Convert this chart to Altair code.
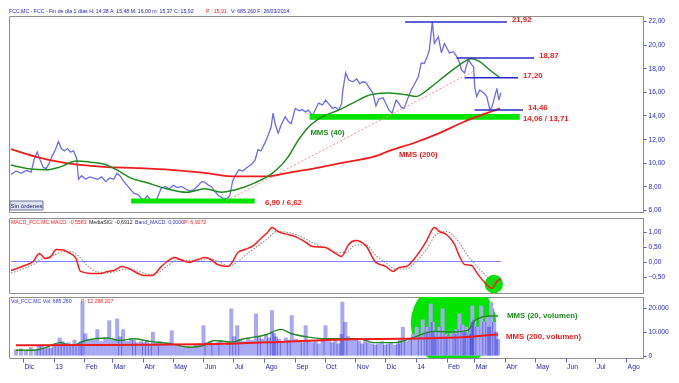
import altair as alt
import pandas as pd

FONT = "Liberation Sans"

# ---------------- price (close) ----------------
P_DATES = ["2012-11-24","2012-11-29","2012-12-04","2012-12-09","2012-12-14","2012-12-17","2012-12-20","2012-12-23","2012-12-26","2012-12-29",
           "2013-01-01","2013-01-04","2013-01-07","2013-01-10","2013-01-13","2013-01-16","2013-01-19","2013-01-22","2013-01-25","2013-01-28",
           "2013-01-30","2013-02-02","2013-02-06","2013-02-10","2013-02-14","2013-02-18","2013-02-22","2013-02-26","2013-03-02","2013-03-06",
           "2013-03-09","2013-03-12","2013-03-16","2013-03-20","2013-03-23","2013-03-26","2013-03-30","2013-04-02","2013-04-05","2013-04-08",
           "2013-04-11","2013-04-15","2013-04-18","2013-04-22","2013-04-26","2013-04-30","2013-05-04","2013-05-08","2013-05-12","2013-05-16",
           "2013-05-20","2013-05-24","2013-05-28","2013-06-01","2013-06-04","2013-06-08","2013-06-11","2013-06-15","2013-06-18","2013-06-22",
           "2013-06-26","2013-06-29","2013-07-02","2013-07-05","2013-07-08","2013-07-12","2013-07-16","2013-07-20","2013-07-24","2013-07-27",
           "2013-07-30","2013-08-03","2013-08-06","2013-08-09","2013-08-11","2013-08-13","2013-08-16","2013-08-19","2013-08-23","2013-08-26",
           "2013-08-29","2013-09-02","2013-09-06","2013-09-09","2013-09-12","2013-09-15","2013-09-19","2013-09-22","2013-09-25","2013-09-29",
           "2013-10-02","2013-10-06","2013-10-09","2013-10-12","2013-10-15","2013-10-18","2013-10-19","2013-10-22","2013-10-25","2013-10-29",
           "2013-11-02","2013-11-05","2013-11-08","2013-11-11","2013-11-14","2013-11-18","2013-11-21","2013-11-24","2013-11-28","2013-12-01",
           "2013-12-04","2013-12-07","2013-12-11","2013-12-14","2013-12-16","2013-12-19","2013-12-22","2013-12-26","2013-12-29","2014-01-02",
           "2014-01-05","2014-01-08","2014-01-11","2014-01-13","2014-01-16","2014-01-18","2014-01-20","2014-01-22","2014-01-25","2014-01-28",
           "2014-01-31","2014-02-02","2014-02-06","2014-02-09","2014-02-11","2014-02-14","2014-02-17","2014-02-19","2014-02-21","2014-02-24",
           "2014-02-26","2014-02-27","2014-03-01","2014-03-04","2014-03-08","2014-03-11","2014-03-14","2014-03-16","2014-03-18","2014-03-21",
           "2014-03-23","2014-03-25"]
P_CLOSE = [9.0, 9.3, 9.1, 9.35, 9.2, 10.3, 10.9, 10.2, 9.6, 9.5,
           10.0, 10.6, 11.1, 11.8, 11.2, 11.0, 11.2, 10.9, 11.0, 10.4,
           8.6, 8.9, 8.6, 8.8, 8.7, 8.6, 8.8, 8.4, 8.7, 8.6,
           9.1, 8.9, 8.4, 8.0, 7.7, 7.4, 7.3, 7.0, 6.85, 7.2,
           6.9, 6.65, 7.0, 7.85, 8.0, 7.8, 8.1, 7.9, 8.0, 7.8,
           7.6, 7.7, 8.0, 8.4, 8.35, 8.1, 7.95, 7.5, 7.2, 7.0,
           6.95, 7.2, 8.5, 9.0, 9.4, 9.3, 9.6, 9.8, 10.2, 11.1,
           11.0, 11.7, 12.3, 13.0, 14.2, 13.3, 12.5, 13.2, 13.9, 13.5,
           13.3, 14.6, 14.4, 14.5, 14.3, 14.45, 14.0, 14.5, 15.05, 14.9,
           15.3, 14.9, 14.6, 14.7, 14.45, 15.0, 16.0, 17.6, 17.0, 16.85,
           17.1, 16.7, 16.85, 16.8, 16.4, 15.9, 14.8, 15.4, 15.5, 15.0,
           14.45, 14.2, 15.3, 15.0, 14.7, 14.6, 15.3, 16.15, 16.6, 17.25,
           18.45, 18.4, 19.0, 19.55, 21.92, 20.1, 20.4, 20.65, 19.3, 20.1,
           19.6, 19.3, 19.4, 19.0, 18.7, 17.85, 17.6, 18.3, 18.7, 18.3,
           18.1, 16.4, 15.6, 16.15, 15.9, 15.6, 14.5, 14.7, 15.3, 16.3,
           15.3, 15.92]
# volume (thousands of shares), same dates as P_DATES
VOL_K = [2.5, 3.0, 2.2, 3.5, 2.8, 4.0, 4.5, 3.0, 3.5, 3.2,
         4.5, 5.0, 7.5, 6.0, 5.0, 5.5, 4.8, 6.5, 5.0, 6.0,
         22.4, 9.2, 7.0, 6.5, 11.0, 6.0, 7.5, 14.7, 6.5, 15.4,
         8.0, 11.0, 6.0, 7.0, 6.5, 5.5, 6.0, 5.5, 6.5, 5.0,
         9.9, 5.5, 6.0, 5.0, 5.5, 10.5, 4.5, 4.0, 3.5, 4.0,
         3.5, 4.5, 5.0, 12.6, 5.5, 6.0, 5.0, 5.5, 6.5, 4.5,
         5.0, 19.6, 8.0, 12.6, 7.0, 6.0, 7.5, 6.5, 17.5, 8.0,
         7.0, 9.0, 7.5, 18.9, 9.5, 8.0, 7.0, 6.0, 7.5, 6.5,
         16.8, 7.0, 6.0, 5.5, 12.6, 6.0, 5.5, 6.5, 5.0, 7.0,
         12.6, 6.0, 5.5, 6.5, 5.0, 9.0, 22.4, 14.0, 8.0, 7.0,
         6.5, 6.0, 5.0, 6.5, 5.5, 5.0, 4.5, 5.0, 6.0, 4.5,
         5.0, 5.5, 4.5, 5.0, 6.5, 11.9, 6.0, 7.0, 9.0, 12.0,
         8.0, 15.0, 10.0, 12.0, 21.7, 14.0, 10.0, 8.0, 12.0, 19.6,
         9.0, 8.0, 10.0, 9.0, 11.0, 17.5, 13.0, 10.0, 12.0, 9.0,
         14.0, 20.8, 15.0, 12.0, 20.8, 14.0, 16.0, 12.0, 22.4, 14.0,
         10.0, 6.85]

# ---------------- moving averages (price) ----------------
MA40_DATES = ["2012-11-24","2012-12-13","2012-12-29","2013-01-12","2013-01-28","2013-02-11","2013-02-24","2013-03-09","2013-03-23","2013-04-08",
              "2013-04-25","2013-05-18","2013-06-04","2013-06-21","2013-07-04","2013-07-24","2013-08-10","2013-08-26","2013-09-05","2013-09-15",
              "2013-09-29","2013-10-15","2013-10-29","2013-11-18","2013-12-04","2013-12-21","2013-12-31","2014-01-13","2014-01-27","2014-02-09",
              "2014-02-24","2014-03-04","2014-03-14","2014-03-24"]
MA40 = [9.8, 9.47, 9.4, 9.65, 10.15, 10.05, 9.9, 9.4, 8.7, 8.3,
        7.85, 7.5, 7.8, 7.5, 7.7, 8.3, 9.1, 10.5, 11.9, 13.0,
        13.9, 14.45, 15.05, 15.8, 15.9, 15.75, 15.6, 16.3, 17.25, 18.1,
        18.8, 18.55, 17.85, 17.2]
MA200_DATES = ["2012-11-24","2012-12-19","2013-01-15","2013-02-24","2013-03-29","2013-05-02","2013-06-04","2013-07-01","2013-08-06","2013-08-26",
               "2013-09-29","2013-10-22","2013-11-01","2013-11-24","2013-12-04","2013-12-28","2014-01-23","2014-02-16","2014-03-11","2014-03-24"]
MA200 = [11.15, 10.5, 10.0, 9.65, 9.55, 9.4, 9.15, 8.85, 8.85, 9.15,
         9.65, 10.05, 10.2, 10.65, 11.0, 11.65, 12.5, 13.45, 14.2, 14.6]

# ---------------- annotations (price panel) ----------------
LEVELS = [21.92, 18.87, 17.20, 14.46]
LEVEL_TEXT = ["21,92", "18,87", "17,20", "14,46"]
LEVEL_FROM = ["2013-12-20", "2014-02-09", "2014-02-17", "2014-02-27"]
LEVEL_TO = ["2014-03-31", "2014-04-27", "2014-04-11", "2014-04-16"]
LEVEL_LABEL_AT = ["2014-04-03", "2014-04-30", "2014-04-14", "2014-04-19"]

BAND_LO = [6.62, 13.71]
BAND_HI = [6.90, 14.06]
BAND_TEXT = ["6,90 / 6,62", "14,06 / 13,71"]
BAND_FROM = ["2013-03-24", "2013-09-17"]
BAND_TO = ["2013-07-23", "2014-04-12"]
BAND_LABEL_AT = ["2013-08-01", "2014-04-14"]

TREND_DATES = ["2013-06-26", "2014-02-25"]
TREND_VALS = [6.8, 17.7]

# ---------------- MACD ----------------
MACD_DATES = ["2012-11-24","2012-12-06","2012-12-16","2012-12-22","2012-12-28","2013-01-02","2013-01-08","2013-01-15","2013-01-20","2013-01-27",
              "2013-02-01","2013-02-11","2013-02-21","2013-02-28","2013-03-06","2013-03-14","2013-03-23","2013-03-30","2013-04-05","2013-04-13",
              "2013-04-22","2013-04-28","2013-05-05","2013-05-12","2013-05-20","2013-05-27","2013-06-04","2013-06-11","2013-06-17","2013-06-27",
              "2013-07-02","2013-07-07","2013-07-14","2013-07-21","2013-07-31","2013-08-05","2013-08-10","2013-08-16","2013-08-23","2013-09-02",
              "2013-09-12","2013-09-19","2013-10-02","2013-10-09","2013-10-18","2013-10-25","2013-11-01","2013-11-11","2013-11-21","2013-12-01",
              "2013-12-08","2013-12-14","2013-12-21","2013-12-31","2014-01-10","2014-01-18","2014-01-23","2014-01-30","2014-02-07","2014-02-12",
              "2014-02-17","2014-02-24","2014-03-01","2014-03-08","2014-03-16","2014-03-21","2014-03-25"]
MACD = [-0.3, -0.15, 0.0, 0.27, 0.1, 0.15, 0.4, 0.38, 0.3, 0.13,
        -0.33, -0.4, -0.4, -0.33, -0.3, -0.17, -0.27, -0.4, -0.47, -0.47,
        -0.17, 0.0, 0.13, 0.05, -0.03, 0.05, 0.13, 0.05, -0.1, -0.17,
        0.0, 0.3, 0.4, 0.5, 0.8, 0.95, 1.13, 1.0, 0.92, 0.83,
        0.65, 0.5, 0.47, 0.33, 0.17, 0.57, 0.7, 0.53, -0.03, -0.17,
        -0.33, -0.2, -0.17, 0.17, 0.67, 1.13, 1.0, 0.9, 0.57, 0.17,
        -0.1, -0.13, -0.37, -0.67, -0.9, -0.67, -0.56]
SIG_DATES = ["2012-11-24","2012-12-06","2012-12-16","2012-12-26","2013-01-05","2013-01-15","2013-01-23","2013-01-31","2013-02-08","2013-02-19",
             "2013-03-01","2013-03-11","2013-03-21","2013-03-31","2013-04-10","2013-04-20","2013-04-30","2013-05-10","2013-05-20","2013-05-30",
             "2013-06-09","2013-06-19","2013-06-29","2013-07-07","2013-07-16","2013-07-26","2013-08-05","2013-08-15","2013-08-25","2013-09-04",
             "2013-09-14","2013-09-24","2013-10-04","2013-10-14","2013-10-22","2013-11-01","2013-11-11","2013-11-21","2013-12-01","2013-12-11",
             "2013-12-21","2013-12-31","2014-01-10","2014-01-20","2014-01-30","2014-02-09","2014-02-19","2014-03-01","2014-03-11","2014-03-19",
             "2014-03-25"]
SIG = [-0.38, -0.25, -0.1, 0.1, 0.2, 0.33, 0.33, 0.15, -0.15, -0.35,
       -0.37, -0.3, -0.25, -0.33, -0.43, -0.35, -0.1, 0.07, 0.03, 0.05,
       0.1, -0.02, -0.15, 0.0, 0.25, 0.5, 0.75, 1.0, 0.97, 0.88,
       0.72, 0.55, 0.45, 0.3, 0.3, 0.55, 0.55, 0.2, -0.05, -0.25,
       -0.25, 0.0, 0.4, 0.9, 1.0, 0.75, 0.25, -0.15, -0.5, -0.72,
       -0.69]
ZERO_SPAN = ["2012-11-24", "2014-03-25"]
MACD_MARK_DATE = ["2014-03-18"]
MACD_MARK_VAL = [-0.75]

# ---------------- volume moving averages (thousands) ----------------
VMA20_DATES = ["2012-11-24","2012-12-12","2012-12-25","2013-01-07","2013-01-20","2013-02-02","2013-02-24","2013-03-09","2013-03-22","2013-04-08",
               "2013-04-30","2013-05-17","2013-05-30","2013-06-12","2013-06-29","2013-07-12","2013-08-03","2013-08-18","2013-08-29","2013-09-15",
               "2013-10-02","2013-10-20","2013-11-06","2013-11-19","2013-12-11","2013-12-28","2014-01-19","2014-02-09","2014-02-22","2014-03-03",
               "2014-03-16","2014-03-25"]
VMA20 = [2.2, 2.2, 3.5, 5.4, 4.2, 6.3, 7.3, 6.3, 7.0, 5.9,
         4.9, 3.5, 4.0, 6.3, 5.6, 7.0, 8.7, 10.9, 9.1, 7.7,
         7.0, 7.0, 7.0, 5.4, 5.4, 7.3, 10.1, 9.8, 10.5, 15.1,
         16.5, 16.5]
VMA200_DATES = ["2012-11-24","2013-01-15","2013-03-26","2013-06-20","2013-08-23","2013-10-28","2013-12-21","2014-01-23","2014-03-01","2014-03-25"]
VMA200 = [4.3, 4.4, 4.5, 4.9, 5.8, 6.8, 7.0, 7.3, 8.0, 8.75]
VOL_MARK_DATE = ["2014-02-08"]
VOL_MARK_K = [13.5]

# ---------------- texts ----------------
HDR_MAIN = ["FCC.MC - FCC - Fin de día 1 días H: 14:38  A: 15,48  M: 16,00  m: 15,37  C: 15,92", "P : 15,91", "V: 685.260  F: 26/03/2014"]
HDR_MACD = ["MACD_FCC.MC  MACD: -0,5583", "MediaSIG: -0,6912", "Band_MACD: 0,0000", "P: 6,9072"]
HDR_VOL = ["Vol_FCC.MC  Vol: 685.260", "P: 12.288.207"]
MONTHS = ["Ene", "Feb", "Mar", "Abr", "May", "Jun", "Jul", "Ago", "Sep", "Oct", "Nov", "Dic"]

# ---------------- styles ----------------
W = 634
H_P, H_M, H_V = 196, 75, 61
BLUE_TXT = "#2323d8"
RED = "#ee1c1c"
GREEN = "#1e8c1e"
LIME = "#00e400"
LBL = 7.8

XS = alt.Scale(domain=[alt.DateTime(year=2012, month=11, date=22),
                       alt.DateTime(year=2014, month=8, date=13)], nice=False)
YP = alt.Scale(domain=[5.83, 22.42], nice=False, zero=False)
YM = alt.Scale(domain=[-1.05, 1.45], nice=False, zero=False)
YV = alt.Scale(domain=[-1000, 24400], nice=False, zero=False)


def yax(values, expr):
    return alt.Axis(orient="right", values=values, labelExpr=expr, title=None, grid=False,
                    tickSize=3, labelPadding=2, domainColor="#8080ff", tickColor="#5050e0",
                    labelColor=BLUE_TXT, labelFontSize=6.6, labelFont=FONT)


dec_expr = "replace(format(datum.value, '.2f'), '.', ',')"
AX_P = yax([6, 8, 10, 12, 14, 16, 18, 20, 22], dec_expr)
AX_M = yax([1, 0.5, 0, -0.5], dec_expr)
AX_V = yax([0, 10000, 20000], "replace(format(datum.value, ',d'), ',', '.')")

month_expr = ("month(datum.value) == 0 ? timeFormat(datum.value, '%y') : "
              + str(MONTHS) + "[month(datum.value)]")
AX_X = alt.Axis(orient="bottom", tickCount="month", labelExpr=month_expr, title=None, grid=False,
                labelAlign="left", labelPadding=1, labelOffset=1, tickSize=4, domain=False,
                tickColor="#6060e0", labelColor="#2525b8", labelFontSize=6.8, labelFont=FONT,
                labelOverlap=False, labelFlush=False)


def Xn(field):
    return alt.X(field, type="temporal", scale=XS, axis=None)


def Xb(field):
    return alt.X(field, type="temporal", scale=XS, axis=AX_X)


def Yp(field):
    return alt.Y(field, type="quantitative", scale=YP, axis=AX_P)


def Ym(field):
    return alt.Y(field, type="quantitative", scale=YM, axis=AX_M)


def Yv(field):
    return alt.Y(field, type="quantitative", scale=YV, axis=AX_V)


def txt(text, x, y, color, size=5.2, weight="normal", align="left"):
    return alt.Chart(pd.DataFrame({"t": [text]})).mark_text(
        align=align, baseline="middle", font=FONT, fontSize=size, color=color, fontWeight=weight
    ).encode(x=alt.value(x), y=alt.value(y), text="t:N")


# ---------------- price panel ----------------
pdf = pd.DataFrame({"d": P_DATES, "c": P_CLOSE, "v": [k * 1000 for k in VOL_K]})

bands_df = pd.DataFrame({"d1": BAND_FROM, "d2": BAND_TO, "lo": BAND_LO, "hi": BAND_HI,
                         "t": BAND_TEXT, "dl": BAND_LABEL_AT})
price_line = alt.Chart(pdf).mark_line(color="#6a6af2", strokeWidth=1.3, clip=True).encode(x=Xn("d"), y=Yp("c"))
bands = alt.Chart(bands_df).mark_rect(color=LIME, stroke=LIME, strokeWidth=1.5).encode(
    x=Xn("d1"), x2="d2:T", y=Yp("lo"), y2="hi:Q")
band_lab = alt.Chart(bands_df).transform_calculate(mid="(datum.lo + datum.hi) / 2").mark_text(
    align="left", baseline="middle", font=FONT, fontSize=LBL, fontWeight="bold", color=RED, dx=2, dy=2
).encode(x=Xn("dl"), y=Yp("mid"), text="t:N")

trend = alt.Chart(pd.DataFrame({"d": TREND_DATES, "c": TREND_VALS})).mark_line(
    color="#ff8c8c", strokeDash=[2, 2], strokeWidth=1).encode(x=Xn("d"), y=Yp("c"))

ma40 = alt.Chart(pd.DataFrame({"d": MA40_DATES, "c": MA40})).mark_line(
    color=GREEN, strokeWidth=1.5, interpolate="monotone", clip=True).encode(x=Xn("d"), y=Yp("c"))
ma200 = alt.Chart(pd.DataFrame({"d": MA200_DATES, "c": MA200})).mark_line(
    color=RED, strokeWidth=1.8, interpolate="monotone", clip=True).encode(x=Xn("d"), y=Yp("c"))

lv_df = pd.DataFrame({"d1": LEVEL_FROM, "d2": LEVEL_TO, "c": LEVELS, "t": LEVEL_TEXT, "dl": LEVEL_LABEL_AT})
lv_rule = alt.Chart(lv_df).mark_rule(color="#2828c8", strokeWidth=1.5).encode(
    x=Xn("d1"), x2="d2:T", y=Yp("c"))
lv_lab = alt.Chart(lv_df).mark_text(align="left", baseline="middle", font=FONT, fontSize=LBL,
                                    fontWeight="bold", color=RED, dx=2, dy=-2).encode(
    x=Xn("dl"), y=Yp("c"), text="t:N")

lab40 = alt.Chart(pd.DataFrame({"d": ["2013-09-17"], "c": [12.5], "t": ["MMS (40)"]})).mark_text(
    align="left", baseline="middle", font=FONT, fontSize=LBL, fontWeight="bold", color=GREEN).encode(
    x=Xn("d"), y=Yp("c"), text="t:N")
lab200 = alt.Chart(pd.DataFrame({"d": ["2013-12-14"], "c": [10.65], "t": ["MMS (200)"]})).mark_text(
    align="left", baseline="middle", font=FONT, fontSize=LBL, fontWeight="bold", color=RED).encode(
    x=Xn("d"), y=Yp("c"), text="t:N")

btn = alt.Chart(pd.DataFrame({"t": ["Sin órdenes"]})).mark_rect(
    fill="#dde2f0", stroke="#6e74a0", strokeWidth=1).encode(
    x=alt.value(1), x2=alt.value(34), y=alt.value(185), y2=alt.value(194))
btn_t = txt("Sin órdenes", 17.5, 189.5, "#20206a", size=6, align="center")

price_panel = alt.layer(
    price_line, bands, trend, ma200, ma40, lv_rule, lv_lab, band_lab, lab40, lab200, btn, btn_t,
    txt(HDR_MAIN[0], 0, -5, "#2020c8"), txt(HDR_MAIN[1], 197, -5, "#ff2020"), txt(HDR_MAIN[2], 222, -5, "#2020c8"),
).properties(width=W, height=H_P)

# ---------------- MACD panel ----------------
zero = alt.Chart(pd.DataFrame({"d1": [ZERO_SPAN[0]], "d2": [ZERO_SPAN[1]], "m": [0.0]})).mark_rule(
    color="#7f7fff", strokeWidth=1.2, clip=True).encode(x=Xn("d1"), x2="d2:T", y=Ym("m"))
mcircle = alt.Chart(pd.DataFrame({"d": MACD_MARK_DATE, "m": MACD_MARK_VAL})).mark_point(
    shape="circle", filled=True, size=340, color=LIME, opacity=1).encode(x=Xn("d"), y=Ym("m"))
sig = alt.Chart(pd.DataFrame({"d": SIG_DATES, "m": SIG})).mark_line(
    color="#8a8a8a", strokeDash=[1.5, 1.5], strokeWidth=1.1, interpolate="monotone", clip=True).encode(
    x=Xn("d"), y=Ym("m"))
macd = alt.Chart(pd.DataFrame({"d": MACD_DATES, "m": MACD})).mark_line(
    color="#ff1a1a", strokeWidth=1.5, interpolate="monotone", clip=True).encode(x=Xn("d"), y=Ym("m"))
macd_panel = alt.layer(
    zero, mcircle, sig, macd,
    txt(HDR_MACD[0], 2, 4, "#ff2020"), txt(HDR_MACD[1], 80, 4, "#222222"),
    txt(HDR_MACD[2], 126, 4, "#3030e0"), txt(HDR_MACD[3], 175, 4, "#ff2020"),
).properties(width=W, height=H_M)

# ---------------- volume panel ----------------
vcircle = alt.Chart(pd.DataFrame({"d": VOL_MARK_DATE, "v": [k * 1000 for k in VOL_MARK_K]})).mark_point(
    shape="circle", filled=True, size=7300, color=LIME, opacity=1, clip=True).encode(
    x=Xb("d"), y=Yv("v"))
bars = alt.Chart(pdf).mark_bar(size=4, color="#a8a8f3", blend="multiply", clip=True).encode(
    x=Xb("d"), y=Yv("v"), y2=alt.datum(0))
vma20 = alt.Chart(pd.DataFrame({"d": VMA20_DATES, "v": [k * 1000 for k in VMA20]})).mark_line(
    color="#218b21", strokeWidth=1.4, interpolate="monotone", clip=True).encode(x=Xb("d"), y=Yv("v"))
vma200 = alt.Chart(pd.DataFrame({"d": VMA200_DATES, "v": [k * 1000 for k in VMA200]})).mark_line(
    color=RED, strokeWidth=2, interpolate="monotone", clip=True).encode(x=Xb("d"), y=Yv("v"))
vlab20 = alt.Chart(pd.DataFrame({"d": ["2014-04-03"], "v": [16300], "t": ["MMS (20, volumen)"]})).mark_text(
    align="left", baseline="middle", font=FONT, fontSize=LBL, fontWeight="bold", color=GREEN).encode(
    x=Xb("d"), y=Yv("v"), text="t:N")
vlab200 = alt.Chart(pd.DataFrame({"d": ["2014-04-02"], "v": [7900], "t": ["MMS (200, volumen)"]})).mark_text(
    align="left", baseline="middle", font=FONT, fontSize=LBL, fontWeight="bold", color=RED).encode(
    x=Xb("d"), y=Yv("v"), text="t:N")
vol_panel = alt.layer(
    vcircle, bars, vma20, vma200, vlab20, vlab200,
    txt(HDR_VOL[0], 2, 3.5, "#3030e0"), txt(HDR_VOL[1], 72, 3.5, "#ff2020"),
).properties(width=W, height=H_V)

chart = alt.vconcat(price_panel, macd_panel, vol_panel, spacing=2, padding=0).configure_view(
    stroke="#8e8e8e", strokeWidth=1).configure_axis(grid=False)

chart.save("out.html", embed_options={"renderer": "svg", "actions": False})
